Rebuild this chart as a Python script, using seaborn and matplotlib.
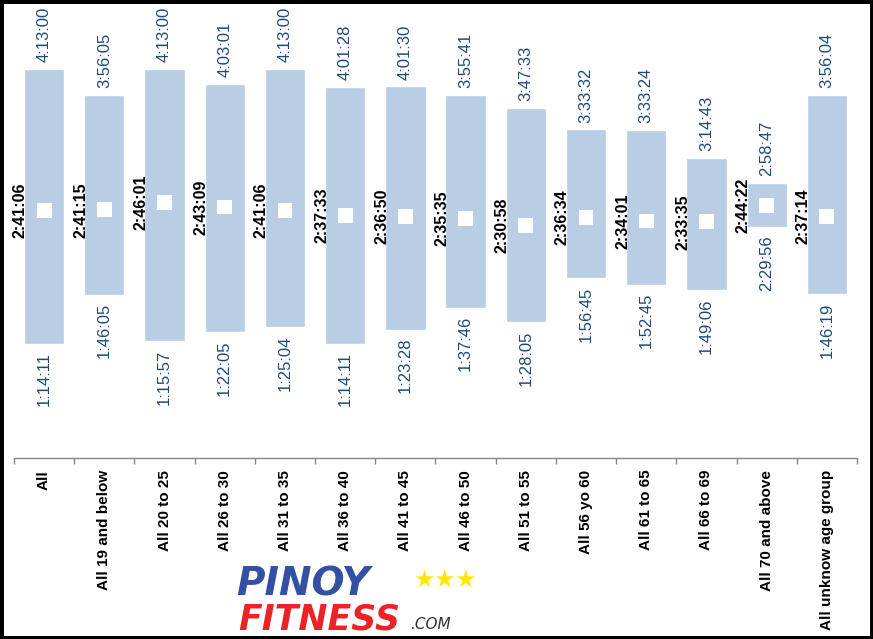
import seaborn as sns
import matplotlib.pyplot as plt
import numpy as np
from matplotlib.patches import Rectangle

# data (h:mm:ss)
groups = ["All", "All 19 and below", "All 20 to 25", "All 26 to 30", "All 31 to 35",
          "All 36 to 40", "All 41 to 45", "All 46 to 50", "All 51 to 55", "All 56 yo 60",
          "All 61 to 65", "All 66 to 69", "All 70 and above", "All unknow age group"]
max_times = ["4:13:00", "3:56:05", "4:13:00", "4:03:01", "4:13:00", "4:01:28", "4:01:30",
             "3:55:41", "3:47:33", "3:33:32", "3:33:24", "3:14:43", "2:58:47", "3:56:04"]
avg_times = ["2:41:06", "2:41:15", "2:46:01", "2:43:09", "2:41:06", "2:37:33", "2:36:50",
             "2:35:35", "2:30:58", "2:36:34", "2:34:01", "2:33:35", "2:44:22", "2:37:14"]
min_times = ["1:14:11", "1:46:05", "1:15:57", "1:22:05", "1:25:04", "1:14:11", "1:23:28",
             "1:37:46", "1:28:05", "1:56:45", "1:52:45", "1:49:06", "2:29:56", "1:46:19"]


def to_sec(t):
    h, m, s = (int(p) for p in t.split(":"))
    return h * 3600 + m * 60 + s


hi = np.array([to_sec(t) for t in max_times])
avg = np.array([to_sec(t) for t in avg_times])
lo = np.array([to_sec(t) for t in min_times])
n = len(groups)

BAR = "#B9CDE5"
BLUE = "#1F497D"
GREY = "#868686"

sns.set_theme(style="white")
plt.rcParams['font.family'] = ['Liberation Sans', 'DejaVu Sans']

fig = plt.figure(figsize=(8.73, 6.39), dpi=100)
ax = fig.add_axes([14 / 873, 181 / 639, 843 / 873, 455 / 639])

# floating bars: min -> max
sns.barplot(x=groups, y=hi - lo, bottom=lo, order=groups, color=BAR, saturation=1,
            width=0.67, errorbar=None, ax=ax)
# average marker
sns.scatterplot(x=np.arange(n), y=avg, marker="s", s=115, color="white",
                edgecolor="none", legend=False, ax=ax, zorder=3)

for i in range(n):
    ax.annotate(max_times[i], (i, hi[i]), xytext=(0, 5), textcoords="offset points",
                rotation=90, ha="center", va="bottom", color=BLUE, fontsize=12)
    ax.annotate(min_times[i], (i, lo[i]), xytext=(0, -6), textcoords="offset points",
                rotation=90, ha="center", va="top", color=BLUE, fontsize=12)
    ax.annotate(avg_times[i], (i, avg[i]), xytext=(-17, 0), textcoords="offset points",
                rotation=90, ha="center", va="center", color="black",
                fontsize=11.5, fontweight="bold")

ax.set_xlim(-0.5, n - 0.5)
ax.set_ylim(0, 17745)
ax.set_yticks([])
ax.set_ylabel("")
ax.set_xlabel("")
for side in ["left", "right", "top"]:
    ax.spines[side].set_visible(False)
ax.spines["bottom"].set_color(GREY)
ax.spines["bottom"].set_linewidth(1)

ax.set_xticks(np.arange(n))
ax.set_xticklabels(groups, rotation=90, fontweight="bold", fontsize=11,
                   va="top", ha="center", color="black")
ax.set_xticks(np.arange(-0.5, n, 1), minor=True)
ax.tick_params(axis="x", which="major", length=0, pad=8.5)
ax.tick_params(axis="x", which="minor", bottom=True, length=4, width=1,
               color=GREY, direction="out")

# logo
fig.text(236 / 873, 44 / 639, "PINOY", color="#3350A3", fontsize=28,
         fontweight="heavy", style="italic", family=["DejaVu Sans"], va="baseline")
fig.text(413 / 873, 52 / 639, "★★★", color="#FFE800", fontsize=17,
         family=["DejaVu Sans"], va="baseline")
fig.text(238 / 873, 10 / 639, "FITNESS", color="#EC2227", fontsize=25,
         fontweight="heavy", style="italic", family=["DejaVu Sans"], va="baseline")
fig.text(410 / 873, 10 / 639, ".COM", color="#333333", fontsize=11,
         style="italic", family=["DejaVu Sans"], va="baseline")

# outer frame
fig.patches.append(Rectangle((0, 0), 1, 1, transform=fig.transFigure, fill=False,
                             lw=5, edgecolor="black"))

fig.savefig("out.png", dpi=100)
